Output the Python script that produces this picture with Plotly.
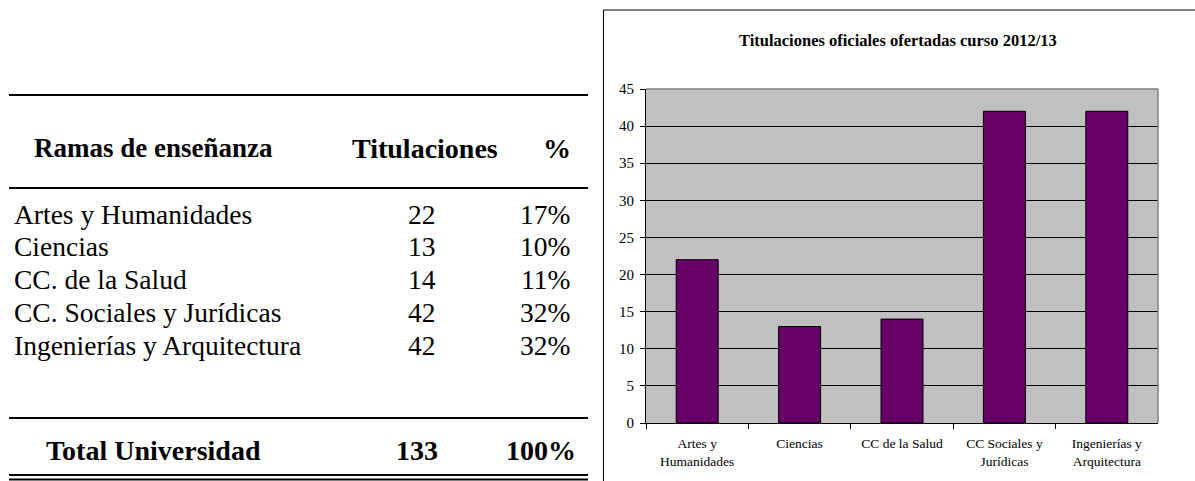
import plotly.graph_objects as go

# ---- data ----
ramas = ["Artes y Humanidades", "Ciencias", "CC. de la Salud",
         "CC. Sociales y Jurídicas", "Ingenierías y Arquitectura"]
titulaciones = [22, 13, 14, 42, 42]
porcentajes = ["17%", "10%", "11%", "32%", "32%"]
total_label = "Total Universidad"
total_tit = 133
total_pct = "100%"
chart_cats = ["Artes y<br>Humanidades", "Ciencias", "CC de la Salud",
              "CC Sociales y<br>Jurídicas", "Ingenierías y<br>Arquitectura"]
chart_title = "Titulaciones oficiales ofertadas curso 2012/13"
y_ticks = [0, 5, 10, 15, 20, 25, 30, 35, 40, 45]

W, H = 1195, 481
SERIF = "Liberation Serif, Times New Roman, serif"


def px(x):
    return x / W


def py(y):
    return 1 - y / H


fig = go.Figure()
fig.add_trace(go.Bar(
    x=chart_cats, y=titulaciones, width=0.41,
    marker=dict(color="#660066", line=dict(color="black", width=1)),
    hoverinfo="x+y", showlegend=False))

fig.update_layout(
    width=W, height=H, margin=dict(l=0, r=0, t=0, b=0, autoexpand=False),
    paper_bgcolor="white", plot_bgcolor="#C0C0C0",
    font=dict(family=SERIF, color="black", size=13),
    xaxis=dict(domain=[px(646), px(1158)], showgrid=False, ticks="outside",
               tickson="boundaries", ticklen=5, tickcolor="black",
               showline=True, linecolor="black", linewidth=1,
               tickfont=dict(family=SERIF, size=13.5, color="black"),
               ticklabelstandoff=8, automargin=False, fixedrange=True),
    yaxis=dict(domain=[py(423), py(89)], range=[0, 45], tickvals=y_ticks,
               showgrid=True, gridcolor="black", gridwidth=1,
               ticks="outside", ticklen=5, tickcolor="black",
               showline=True, linecolor="black", linewidth=1,
               zeroline=False, ticklabelstandoff=3, automargin=False,
               tickfont=dict(family=SERIF, size=15, color="black"),
               fixedrange=True),
)

shapes = []
# chart border
shapes.append(dict(type="rect", xref="paper", yref="paper",
                   x0=px(603.5), x1=px(1200), y0=py(490), y1=py(10),
                   line=dict(color="black", width=1)))
# plot area top / right edges (grey)
shapes.append(dict(type="line", xref="paper", yref="paper",
                   x0=px(646), x1=px(1158), y0=py(89), y1=py(89),
                   line=dict(color="#808080", width=1.5)))
shapes.append(dict(type="line", xref="paper", yref="paper",
                   x0=px(1158), x1=px(1158), y0=py(423), y1=py(89),
                   line=dict(color="#808080", width=1.5)))

annotations = [dict(text="<b>" + chart_title + "</b>", xref="paper", yref="paper",
                    x=px(898), y=py(40), showarrow=False,
                    font=dict(family=SERIF, size=16.5, color="black"),
                    xanchor="center", yanchor="middle")]

# ---- table ----
TX0, TX1 = 9, 588


def hline(y, w):
    shapes.append(dict(type="line", xref="paper", yref="paper",
                       x0=px(TX0), x1=px(TX1), y0=py(y), y1=py(y),
                       line=dict(color="black", width=w)))


hline(95, 2.2)
hline(188, 2.2)
hline(418, 2.2)
hline(475, 2)
hline(479.5, 2)

TF = 27.5


def txt(s, x, y, anchor, bold=False, size=TF):
    annotations.append(dict(text=("<b>%s</b>" % s) if bold else s,
                            xref="paper", yref="paper", x=px(x), y=py(y),
                            showarrow=False, xanchor=anchor, yanchor="middle",
                            font=dict(family=SERIF, size=size, color="black")))


txt("Ramas de enseñanza", 153, 148, "center", True, 27)
txt("Titulaciones", 425, 148, "center", True, 28)
txt("%", 557, 148, "center", True, 28)

row_y = [214, 246, 279, 312, 345]
for r, t, p, yy in zip(ramas, titulaciones, porcentajes, row_y):
    txt(r, 12, yy, "left")
    txt(str(t), 438, yy, "right")
    txt(p, 572, yy, "right")

txt(total_label, 153, 450, "center", True, 28)
txt(str(total_tit), 417, 450, "center", True, 28)
txt(total_pct, 541, 450, "center", True, 28)

fig.update_layout(shapes=shapes, annotations=annotations)
fig.write_html("out.html", config={"displayModeBar": False},
               post_script="document.body.style.margin='0';"
                           "document.body.style.overflow='hidden';")
